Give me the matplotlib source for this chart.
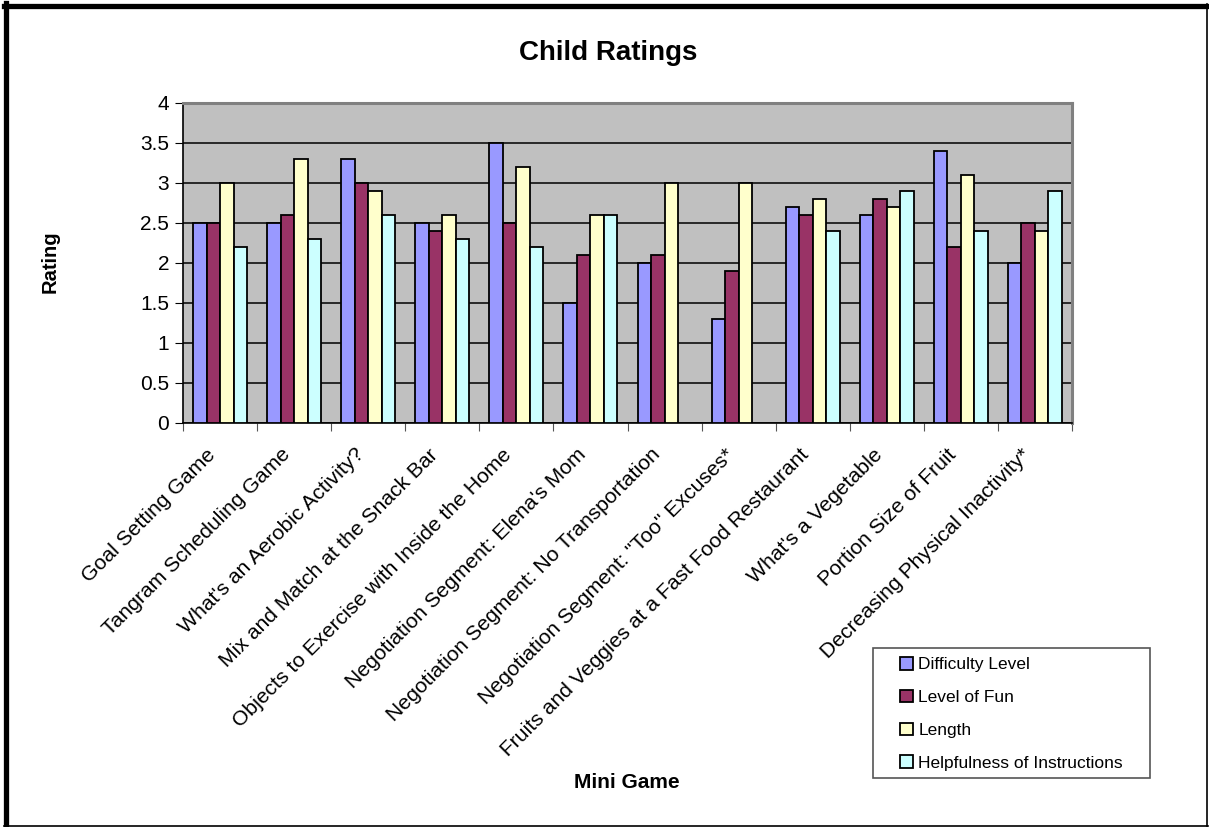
import matplotlib
matplotlib.use("Agg")
import matplotlib.pyplot as plt
from matplotlib.lines import Line2D
from matplotlib.patches import Patch, Rectangle
from matplotlib.transforms import offset_copy
import numpy as np

plt.rcParams['font.family'] = ['Liberation Sans', 'DejaVu Sans']

categories = [
    "Goal Setting Game",
    "Tangram Scheduling Game",
    "What's an Aerobic Activity?",
    "Mix and Match at the Snack Bar",
    "Objects to Exercise with Inside the Home",
    "Negotiation Segment: Elena's Mom",
    "Negotiation Segment: No Transportation",
    "Negotiation Segment: \"Too\" Excuses*",
    "Fruits and Veggies at a Fast Food Restaurant",
    "What's a Vegetable",
    "Portion Size of Fruit",
    "Decreasing Physical Inactivity*",
]
difficulty = [2.5, 2.5, 3.3, 2.5, 3.5, 1.5, 2.0, 1.3, 2.7, 2.6, 3.4, 2.0]
fun        = [2.5, 2.6, 3.0, 2.4, 2.5, 2.1, 2.1, 1.9, 2.6, 2.8, 2.2, 2.5]
length     = [3.0, 3.3, 2.9, 2.6, 3.2, 2.6, 3.0, 3.0, 2.8, 2.7, 3.1, 2.4]
helpful    = [2.2, 2.3, 2.6, 2.3, 2.2, 2.6, np.nan, np.nan, 2.4, 2.9, 2.4, 2.9]

series_names = ["Difficulty Level", "Level of Fun", "Length", "Helpfulness of Instructions"]
colors = ["#9999FF", "#993366", "#FFFFCC", "#CCFFFF"]
yticks = [0, 0.5, 1, 1.5, 2, 2.5, 3, 3.5, 4]
ytick_labels = ["0", "0.5", "1", "1.5", "2", "2.5", "3", "3.5", "4"]

W, H = 1209, 827
fig = plt.figure(figsize=(W / 100, H / 100), dpi=100)
ax = fig.add_axes([183 / W, 1 - 423 / H, (1072 - 183) / W, (423 - 103) / H])
ax.set_facecolor("#C0C0C0")

x = np.arange(len(categories))
bw = 0.182
offsets = (np.arange(4) - 1.5) * bw
for vals, name, c, off in zip([difficulty, fun, length, helpful], series_names, colors, offsets):
    v = np.array(vals, dtype=float)
    mask = ~np.isnan(v)
    ax.bar(x[mask] + off, v[mask], width=bw, color=c, edgecolor="black", linewidth=1.3,
           label=name, zorder=3)

ax.set_xlim(-0.5, len(categories) - 0.5)
ax.set_ylim(0, 4)
ax.set_yticks(yticks)
ax.set_yticklabels(ytick_labels, fontsize=15)
ax.yaxis.grid(True, color="black", linewidth=1.1, zorder=1)
ax.set_axisbelow(True)

# Category boundary ticks
ax.set_xticks(np.arange(len(categories) + 1) - 0.5)
ax.set_xticklabels([])
ax.tick_params(axis="x", which="major", length=6, direction="out", color="#555555")
ax.tick_params(axis="y", length=6, direction="out", pad=4)

# Category labels, rotated
for xi, lab in zip(x, categories):
    tr = offset_copy(ax.get_xaxis_transform(), fig=fig, x=-14, y=-22, units="dots")
    ax.text(xi, 0, lab, transform=tr, rotation=45, ha="right", va="top",
            rotation_mode="anchor", fontsize=15.2)

for s in ["top", "right"]:
    ax.spines[s].set_color("#808080")
    ax.spines[s].set_linewidth(2.2)
ax.spines["left"].set_color("black")
ax.spines["left"].set_linewidth(1.2)
ax.spines["bottom"].set_color("black")
ax.spines["bottom"].set_linewidth(1.2)

fig.text(608 / W, 1 - 53 / H, "Child Ratings", ha="center", va="center",
         fontsize=20, fontweight="bold")
fig.text(50 / W, 1 - 262 / H, "Rating", ha="center", va="center", rotation=90,
         fontsize=14.5, fontweight="bold")
fig.text(627 / W, 1 - 783 / H, "Mini Game", ha="center", va="center",
         fontsize=15, fontweight="bold")

# Legend box
fig.add_artist(Rectangle((873 / W, 1 - 778 / H), (1150 - 873) / W, (778 - 648) / H,
                         transform=fig.transFigure, facecolor="white", edgecolor="#555555",
                         linewidth=1.2, zorder=4))
handles = [Patch(facecolor=c, edgecolor="black", linewidth=1.3, label=n)
           for c, n in zip(colors, series_names)]
leg = fig.legend(handles=handles, loc="upper left",
                 bbox_to_anchor=(900 / W, 1 - 657 / H), bbox_transform=fig.transFigure,
                 fontsize=12.5, frameon=False,
                 handlelength=0.75, handleheight=0.75, handletextpad=0.3,
                 labelspacing=1.0, borderpad=0, borderaxespad=0)
leg.set_zorder(5)

# Outer frame: thick left/top, thin right/bottom
fig.add_artist(Line2D([5.5 / W, 5.5 / W], [1 - 3 / H, 1 - 825.5 / H], color="black", linewidth=3.8,
                      transform=fig.transFigure))
fig.add_artist(Line2D([3.5 / W, 1207 / W], [1 - 5.5 / H, 1 - 5.5 / H], color="black", linewidth=3.8,
                      transform=fig.transFigure))
fig.add_artist(Line2D([1207 / W, 1207 / W], [1 - 4 / H, 1 - 825.5 / H], color="black", linewidth=1.2,
                      transform=fig.transFigure))
fig.add_artist(Line2D([4 / W, 1207.5 / W], [1 - 825.5 / H, 1 - 825.5 / H], color="black", linewidth=1.2,
                      transform=fig.transFigure))

fig.savefig("out.png", dpi=100)
